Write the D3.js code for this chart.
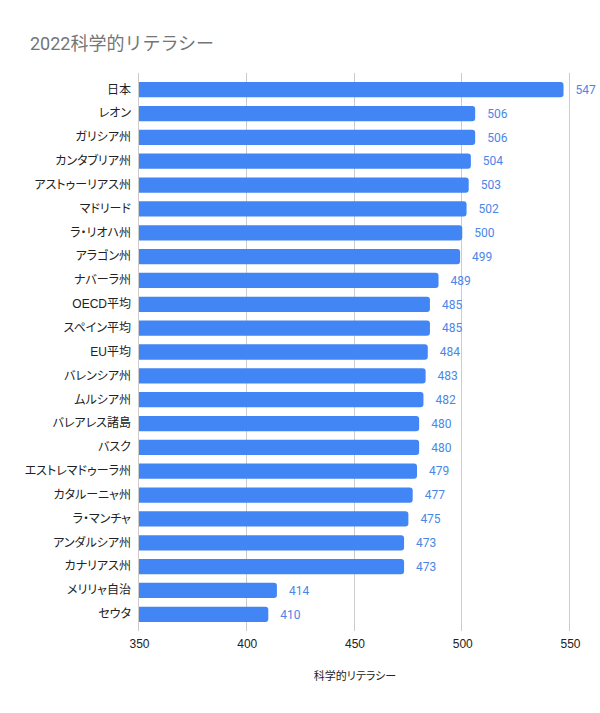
<!DOCTYPE html>
<html>
<head>
<meta charset="utf-8">
<script src="https://cdn.jsdelivr.net/npm/d3@7"></script>
<style>
  body { margin: 0; background: #fff; }
  svg text { font-family: "Liberation Sans", Arial, "Noto Sans CJK JP", sans-serif; font-feature-settings: "palt"; }
  svg text.roboto { font-family: Roboto, "Noto Sans CJK JP", sans-serif; }
  svg text.title { font-feature-settings: normal; }
</style>
</head>
<body>
<svg id="chart" width="600" height="713"></svg>
<script>
// data
var regions = ["日本", "レオン", "ガリシア州", "カンタブリア州", "アストゥーリアス州", "マドリード",
  "ラ・リオハ州", "アラゴン州", "ナバーラ州", "OECD平均", "スペイン平均", "EU平均", "バレンシア州",
  "ムルシア州", "バレアレス諸島", "バスク", "エストレマドゥーラ州", "カタルーニャ州", "ラ・マンチャ",
  "アンダルシア州", "カナリアス州", "メリリャ自治", "セウタ"];
var scores = [547, 506, 506, 504, 503, 502, 500, 499, 489, 485, 485, 484, 483, 482, 480, 480, 479, 477, 475, 473, 473, 414, 410];
var xTicks = [350, 400, 450, 500, 550];

var rows = regions.map(function(r, i){ return {name: r, value: scores[i]}; });

var svg = d3.select("#chart"),
  x = d3.scaleLinear().domain([350, 550]).range([139, 570]),
  y = d3.scaleBand().domain(regions).range([73, 631]).paddingInner(0.36).paddingOuter(0.38);

svg.append("text")
  .attr("class", "roboto title")
  .attr("x", 30).attr("y", 50)
  .attr("font-size", 18).attr("fill", "#757575")
  .text("2022科学的リテラシー");

// gridlines
svg.append("g").selectAll("line")
  .data(xTicks)
  .enter().append("line")
  .attr("x1", function(d){ return Math.round(x(d)) - 0.5; }).attr("x2", function(d){ return Math.round(x(d)) - 0.5; })
  .attr("y1", 73).attr("y2", 631)
  .attr("stroke", "#ccc")
  .attr("stroke-width", 1);

var xAxis = svg.append("g")
  .attr("transform", "translate(0,631)")
  .call(d3.axisBottom(x).tickValues(xTicks).tickSize(0).tickPadding(8));
xAxis.select(".domain").remove();
xAxis.selectAll("text").attr("font-size", 12).attr("fill", "#222");

var yAxis = svg.append("g")
  .attr("transform", "translate(131,0)")
  .call(d3.axisLeft(y).tickSize(0).tickPadding(0));
yAxis.select(".domain").remove();
yAxis.selectAll("text").attr("font-size", 12).attr("fill", "#222");

// bars with rounded right end
var r = 3;
svg.append("g").selectAll("path")
  .data(rows)
  .enter().append("path")
  .attr("fill", "#4285f4")
  .attr("d", function(d){
    var x0 = x(350), x1 = x(d.value), y0 = y(d.name), h = y.bandwidth();
    return "M" + x0 + "," + y0 + "H" + (x1 - r) + "Q" + x1 + "," + y0 + " " + x1 + "," + (y0 + r) +
      "V" + (y0 + h - r) + "Q" + x1 + "," + (y0 + h) + " " + (x1 - r) + "," + (y0 + h) + "H" + x0 + "Z";
  });

svg.append("g").selectAll("text")
  .data(rows)
  .enter().append("text")
  .attr("class", "roboto")
  .attr("x", function(d){ return x(d.value) + 12; })
  .attr("y", function(d){ return y(d.name) + y.bandwidth() / 2; })
  .attr("dy", "0.35em")
  .attr("font-size", 12)
  .attr("fill", "#4a86e8")
  .text(function(d){ return d.value; });

svg.append("text")
  .attr("x", 355).attr("y", 680)
  .attr("text-anchor", "middle")
  .attr("font-size", 11).attr("fill", "#222")
  .text("科学的リテラシー");
</script>
</body>
</html>
